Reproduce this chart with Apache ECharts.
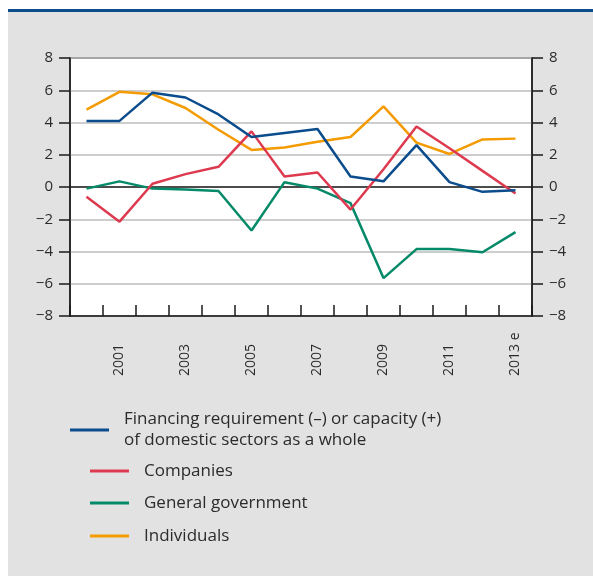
<!DOCTYPE html>
<html>
<head>
<meta charset="utf-8">
<script src="https://cdn.jsdelivr.net/npm/echarts@6/dist/echarts.min.js"></script>
<style>
  html, body { margin: 0; padding: 0; background: #ffffff; }
  #chart { width: 593px; height: 576px; }
</style>
</head>
<body>
<div id="chart"></div>
<script>
// Financial balances by sector, % of GDP
const years = ['2000', '2001', '2002', '2003', '2004', '2005', '2006', '2007', '2008', '2009', '2010', '2011', '2012', '2013 e'];
const domesticSectors = [4.1, 4.1, 5.85, 5.55, 4.5, 3.1, 3.35, 3.6, 0.65, 0.35, 2.6, 0.3, -0.3, -0.2];
const companies = [-0.6, -2.15, 0.2, 0.8, 1.25, 3.45, 0.65, 0.9, -1.4, 1.1, 3.75, 2.4, 1.0, -0.4];
const generalGovernment = [-0.1, 0.35, -0.1, -0.15, -0.25, -2.7, 0.3, -0.1, -1.0, -5.65, -3.85, -3.85, -4.05, -2.8];
const individuals = [4.8, 5.9, 5.75, 4.9, 3.55, 2.3, 2.45, 2.8, 3.1, 5.0, 2.75, 2.05, 2.95, 3.0];
const yTicks = [-8, -6, -4, -2, 0, 2, 4, 6, 8];

const names = {
  domestic: 'Financing requirement (–) or capacity (+)\nof domestic sectors as a whole',
  companies: 'Companies',
  government: 'General government',
  individuals: 'Individuals'
};
const colors = {
  domestic: '#0b4c8c',
  companies: '#dd3a50',
  government: '#058a69',
  individuals: '#f39b00'
};

const fontFamily = '"Open Sans", "Noto Sans", sans-serif';
const textColor = '#2b2b2b';
const minus = v => String(v).replace('-', '\u2212');

const yAxisBase = {
  type: 'value',
  min: yTicks[0],
  max: yTicks[yTicks.length - 1],
  interval: 2,
  axisLine: { show: true, lineStyle: { color: '#1a1a1a', width: 1.5 } },
  axisTick: { show: true, length: 11, lineStyle: { color: '#1a1a1a', width: 1.5 } },
  axisLabel: { color: textColor, fontSize: 15, fontFamily, margin: 17, formatter: minus }
};

function legendFor(name, left, top, lineHeight) {
  return {
    data: [{ name, icon: 'rect' }],
    left, top,
    itemWidth: 39,
    itemHeight: 3,
    itemGap: 0,
    selectedMode: false,
    textStyle: { color: textColor, fontSize: 17, fontFamily, lineHeight, padding: [0, 0, 0, 10] }
  };
}

function lineSeries(name, data, color) {
  return {
    type: 'line',
    name,
    data,
    yAxisIndex: 0,
    symbol: 'none',
    animation: false,
    lineStyle: { color, width: 2.5 },
    itemStyle: { color }
  };
}

const chart = echarts.init(document.getElementById('chart'), null, { renderer: 'canvas' });
chart.setOption({
  animation: false,
  backgroundColor: 'transparent',
  graphic: [
    { type: 'rect', z: -10, shape: { x: 8, y: 11, width: 585, height: 565 }, style: { fill: '#e2e2e2' } },
    { type: 'rect', z: -9, shape: { x: 8, y: 9, width: 585, height: 3 }, style: { fill: '#0b4c8c' } }
  ],
  grid: {
    left: 70, right: 61, top: 58, height: 258,
    show: true, backgroundColor: '#ffffff', borderColor: '#3a3a3a', borderWidth: 1.5
  },
  legend: [
    legendFor(names.domestic, 65, 404, 21),
    legendFor(names.companies, 85, 456, 20),
    legendFor(names.government, 85, 488, 20),
    legendFor(names.individuals, 85, 521, 20)
  ],
  xAxis: {
    type: 'category',
    data: years,
    boundaryGap: true,
    axisLine: { show: true, onZero: false, lineStyle: { color: '#1a1a1a', width: 1.5 } },
    axisTick: { show: true, inside: true, length: 11, interval: 0, lineStyle: { color: '#1a1a1a', width: 1.5 } },
    axisLabel: {
      interval: (index) => index % 2 === 1,
      rotate: 90,
      align: 'left',
      verticalAlign: 'middle',
      margin: 60,
      color: textColor,
      fontSize: 14,
      fontFamily
    },
    splitLine: { show: false }
  },
  yAxis: [
    Object.assign({}, yAxisBase, {
      position: 'left',
      splitLine: {
        show: true,
        lineStyle: {
          color: yTicks.map(v => (v === 0 ? '#111111' : '#bcbcbc')),
          width: 1.5
        }
      }
    }),
    Object.assign({}, yAxisBase, { position: 'right', splitLine: { show: false } })
  ],
  series: [
    lineSeries(names.individuals, individuals, colors.individuals),
    lineSeries(names.government, generalGovernment, colors.government),
    lineSeries(names.companies, companies, colors.companies),
    lineSeries(names.domestic, domesticSectors, colors.domestic)
  ]
});
</script>
</body>
</html>
